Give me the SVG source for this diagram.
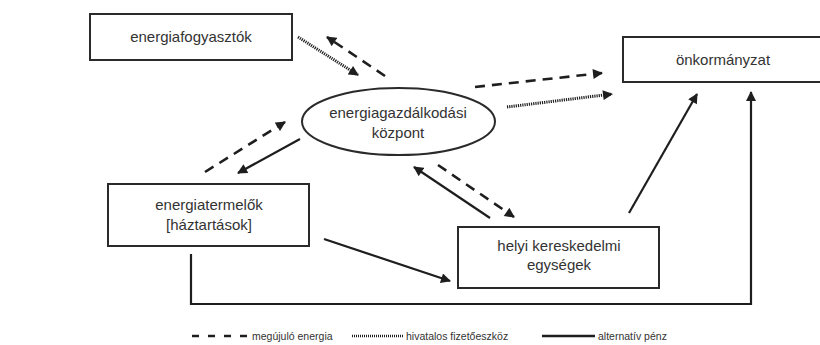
<svg xmlns="http://www.w3.org/2000/svg" width="820" height="345" viewBox="0 0 820 345">
<style>
.box{fill:#fff;stroke:#2a2a2a;stroke-width:2}
.lbl{font-family:"Liberation Sans",Arial,sans-serif;font-size:15px;fill:#333;text-anchor:middle}
.leg{font-family:"Liberation Sans",Arial,sans-serif;font-size:10.5px;fill:#333}
.solid{fill:none;stroke:#1e1e1e;stroke-width:2.2}
.dash{fill:none;stroke:#1e1e1e;stroke-width:2.6;stroke-dasharray:10 7}
.dot{fill:none;stroke:#1e1e1e;stroke-width:3;stroke-dasharray:1.2 1}
</style>
<defs>
<marker id="ah" viewBox="0 0 10 10" refX="9" refY="5" markerWidth="11" markerHeight="10" markerUnits="userSpaceOnUse" orient="auto">
<path d="M0,0 L10,5 L0,10 Z" fill="#1e1e1e"/>
</marker>
</defs>
<rect width="820" height="345" fill="#fff"/>

<g id="connectors">
<line class="dot" x1="298" y1="37" x2="358" y2="75" marker-end="url(#ah)"/>
<line class="dash" x1="385" y1="76" x2="327" y2="37" marker-end="url(#ah)"/>
<line class="dash" x1="475" y1="87" x2="602" y2="73" marker-end="url(#ah)"/>
<line class="dot" x1="507" y1="107" x2="612" y2="94" marker-end="url(#ah)"/>
<line class="dash" x1="205" y1="172" x2="285" y2="122" marker-end="url(#ah)"/>
<line class="solid" x1="300" y1="139" x2="238" y2="173" marker-end="url(#ah)"/>
<line class="solid" x1="490" y1="218" x2="414" y2="167" marker-end="url(#ah)"/>
<line class="dash" x1="438" y1="165" x2="514" y2="217" marker-end="url(#ah)"/>
<line class="solid" x1="324" y1="239" x2="450" y2="281" marker-end="url(#ah)"/>
<line class="solid" x1="629" y1="213" x2="697" y2="94" marker-end="url(#ah)"/>
<polyline class="solid" points="191,254 191,304 751,304 751,92" marker-end="url(#ah)"/>
</g>

<g id="energiafogyasztok">
<rect class="box" x="90" y="14" width="202" height="46"/>
<text class="lbl" x="191" y="42">energiafogyasztók</text>
</g>

<g id="onkormanyzat">
<rect class="box" x="623" y="37" width="210" height="45"/>
<text class="lbl" x="723" y="65">önkormányzat</text>
</g>

<g id="kozpont">
<ellipse class="box" cx="398.5" cy="121.5" rx="96.5" ry="33.5"/>
<text class="lbl" x="398" y="118">energiagazdálkodási</text>
<text class="lbl" x="398" y="138">központ</text>
</g>

<g id="energiatermelok">
<rect class="box" x="108" y="184" width="201" height="62"/>
<text class="lbl" x="209" y="210">energiatermelők</text>
<text class="lbl" x="209" y="230">[háztartások]</text>
</g>

<g id="helyi">
<rect class="box" x="458" y="227" width="201" height="61"/>
<text class="lbl" x="559" y="251">helyi kereskedelmi</text>
<text class="lbl" x="559" y="270">egységek</text>
</g>

<g id="legend">
<line x1="192" y1="336" x2="249" y2="336" stroke="#1e1e1e" stroke-width="2.6" stroke-dasharray="7 9"/>
<text class="leg" x="252" y="339.5">megújuló energia</text>
<line x1="352" y1="336" x2="403" y2="336" stroke="#1e1e1e" stroke-width="2.6" stroke-dasharray="1 1"/>
<text class="leg" x="406" y="339.5">hivatalos fizetőeszköz</text>
<line x1="542" y1="336" x2="595" y2="336" stroke="#1e1e1e" stroke-width="2.6"/>
<text class="leg" x="598" y="339.5">alternatív pénz</text>
</g>
</svg>
